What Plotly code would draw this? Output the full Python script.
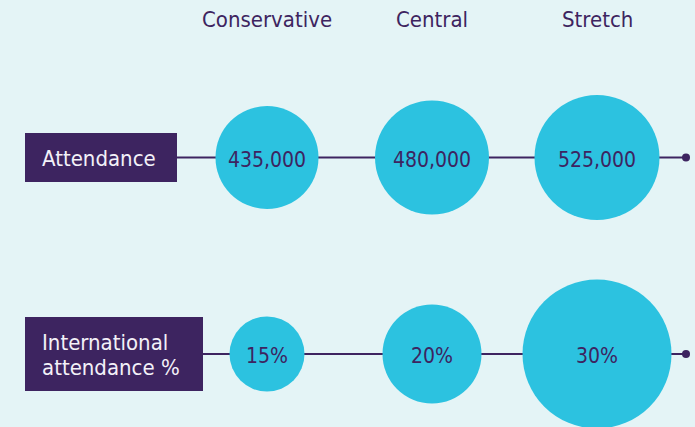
import plotly.graph_objects as go

# ---- data ----
scenarios = ["Conservative", "Central", "Stretch"]
metrics = ["Attendance", "International<br>attendance %"]
attendance = [435000, 480000, 525000]
intl_pct = [15, 20, 30]

# ---- style ----
BG = "#e4f4f6"
PURPLE = "#3d2460"
CYAN = "#2cc2e0"
FONT = "DejaVu Sans Condensed, Open Sans, sans-serif"
W, H = 695, 427
diam = [[103, 114, 125], [75, 99, 149]]
box_right = [177, 203]
box_h = [49, 74]
LINE_GAP = 25

# pixel mapping (plot area = full figure)
X0PX, XSTEP = 267, 165
Y0PX, YSTEP = 157.5, 196.5
xr = [(0 - X0PX) / XSTEP, (W - X0PX) / XSTEP]
yr = [(H - Y0PX) / YSTEP, (0 - Y0PX) / YSTEP]
x_end = (686 - X0PX) / XSTEP

rows = [
    ([f"{v:,}" for v in attendance]),
    ([f"{v}%" for v in intl_pct]),
]

fig = go.Figure()
shapes = []
annotations = []
for i, (label, texts) in enumerate(zip(metrics, rows)):
    shapes.append(dict(type="line", xref="paper", yref="y", layer="below",
                       x0=box_right[i] / W, x1=686 / W, y0=i, y1=i,
                       line=dict(color=PURPLE, width=1.8)))
    yc = Y0PX + YSTEP * i
    shapes.append(dict(type="rect", xref="paper", yref="paper", layer="above",
                       x0=25 / W, x1=box_right[i] / W,
                       y0=1 - (yc + box_h[i] / 2) / H, y1=1 - (yc - box_h[i] / 2) / H,
                       fillcolor=PURPLE, line=dict(width=0)))
    parts = label.split("<br>")
    n = len(parts)
    for k, part in enumerate(parts):
        annotations.append(dict(text=part, xref="paper", yref="y", x=40 / W, y=i,
                                yshift=((n - 1) / 2 - k) * LINE_GAP - 1,
                                xanchor="left", yanchor="middle", align="left",
                                showarrow=False,
                                font=dict(family=FONT, size=22, color="#f3f1f8")))
    fig.add_trace(go.Scatter(
        x=list(range(len(scenarios))), y=[i] * len(scenarios),
        mode="markers",
        marker=dict(size=diam[i], color=CYAN, line=dict(width=0), opacity=1),
        hoverinfo="skip", showlegend=False, cliponaxis=False))
    for j, t in enumerate(texts):
        annotations.append(dict(text=t, xref="x", yref="y", x=j, y=i, yshift=-2,
                                xanchor="center", yanchor="middle", showarrow=False,
                                font=dict(family=FONT, size=21, color=PURPLE)))
    fig.add_trace(go.Scatter(x=[x_end], y=[i], mode="markers",
                             marker=dict(size=8, color=PURPLE),
                             hoverinfo="skip", showlegend=False))

for j, s in enumerate(scenarios):
    annotations.append(dict(text=s, xref="x", yref="paper", x=j, y=1 - 19 / H,
                            xanchor="center", yanchor="middle", showarrow=False,
                            font=dict(family=FONT, size=22, color=PURPLE)))

fig.update_layout(
    width=W, height=H, margin=dict(l=0, r=0, t=0, b=0),
    paper_bgcolor=BG, plot_bgcolor=BG,
    xaxis=dict(range=xr, visible=False, fixedrange=True),
    yaxis=dict(range=yr, visible=False, fixedrange=True),
    shapes=shapes, annotations=annotations, showlegend=False,
)
fig.write_html("out.html", config={"displayModeBar": False},
               post_script="document.body.style.margin='0';document.body.style.background='" + BG + "';")
